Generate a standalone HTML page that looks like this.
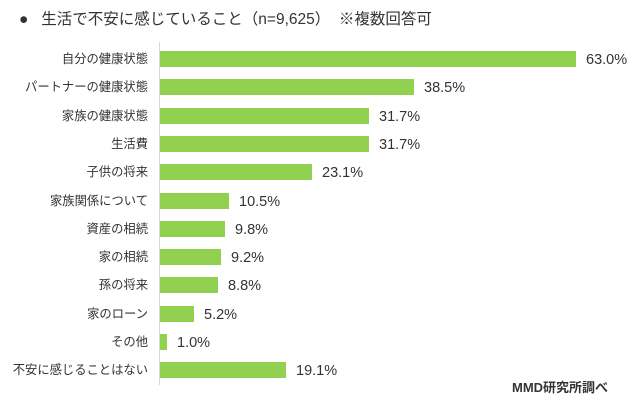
<!DOCTYPE html>
<html><head><meta charset="utf-8"><style>
body{margin:0;background:#fff;width:642px;height:406px;overflow:hidden;font-family:"Liberation Sans","Noto Sans CJK JP",sans-serif;color:#333;position:relative}
.t{position:absolute;left:19px;top:7px;font-size:15.5px;white-space:nowrap;color:#333}
.ax{position:absolute;left:159px;top:42px;width:1px;height:343px;background:#d9d9d9}
.l{position:absolute;right:494px;font-size:12.3px;white-space:nowrap;text-align:right;line-height:16px}
.b{position:absolute;left:160px;height:16px;background:#92d050}
.v{position:absolute;font-size:14.5px;line-height:16px;white-space:nowrap}
.src{position:absolute;left:512px;top:377px;font-size:13px;font-weight:bold;color:#333}
</style></head><body>
<div class="t">●&nbsp;&nbsp;&nbsp;生活で不安に感じていること（n=9,625）&nbsp;&nbsp;※複数回答可</div>
<div class="ax"></div>
<div id="c"></div>
<div class="src">MMD研究所調べ</div>
<script>
var d=[["自分の健康状態",63.0],["パートナーの健康状態",38.5],["家族の健康状態",31.7],["生活費",31.7],["子供の将来",23.1],["家族関係について",10.5],["資産の相続",9.8],["家の相続",9.2],["孫の将来",8.8],["家のローン",5.2],["その他",1.0],["不安に感じることはない",19.1]];
var h="";
d.forEach(function(r,i){var y=Math.round(51+i*28.3);var w=Math.round(r[1]*6.6);
h+='<div class="l" style="top:'+y+'px">'+r[0]+'</div><div class="b" style="top:'+y+'px;width:'+w+'px"></div><div class="v" style="top:'+(y+1)+'px;left:'+(160+w+10)+'px">'+r[1].toFixed(1)+'%</div>';});
document.getElementById("c").innerHTML=h;
</script>
</body></html>
